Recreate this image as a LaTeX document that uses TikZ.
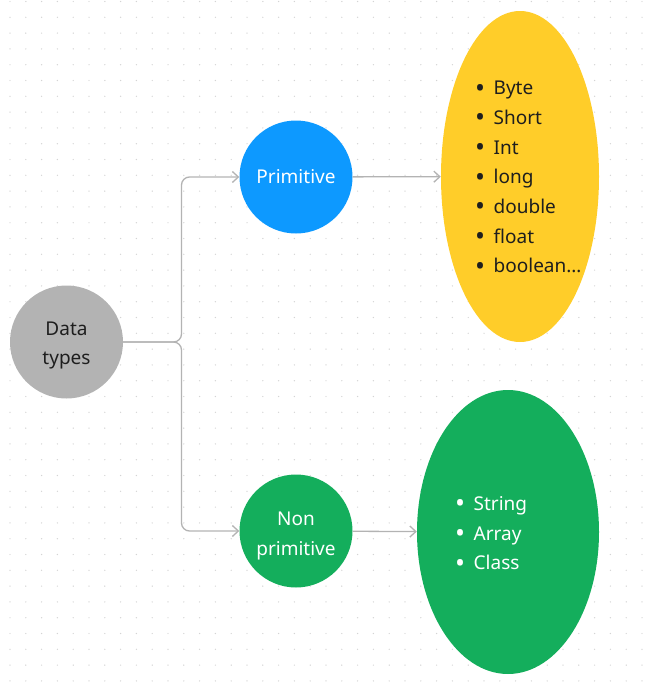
\documentclass[tikz,border=0pt]{standalone}
\usepackage{fontspec}
\setmainfont{Noto Sans}
\usetikzlibrary{shapes.geometric,arrows.meta}

\definecolor{dotgray}{HTML}{D4D4D4}
\definecolor{linkgray}{HTML}{B3B3B3}
\definecolor{typegray}{HTML}{B3B3B3}
\definecolor{primblue}{HTML}{0D99FF}
\definecolor{listyellow}{HTML}{FFCD29}
\definecolor{nongreen}{HTML}{14AE5C}
\definecolor{inkdark}{HTML}{1E1E1E}

\newcommand\itm[1]{\makebox[18.7pt][l]{\raisebox{-2.4pt}{\scalebox{1.4}{•}}}#1}
\newcommand\lift[1]{\rule{0pt}{#1}}

\begin{document}
\begin{tikzpicture}[x=1pt, y=-1pt,
  font=\fontsize{19}{29.7}\selectfont,
  bubble/.style={circle, minimum size=113pt, inner sep=0pt, align=center},
  blob/.style={ellipse, inner sep=0pt},
  itemlist/.style={align=left, anchor=west, inner sep=0pt},
  link/.style={draw=linkgray, line width=1.3pt},
  arr/.style={link, -{Straight Barb[length=6pt,width=11pt]}}]

\useasboundingbox (0,0) rectangle (650,688);

% dotted canvas
\foreach \i in {0,...,40}
  \foreach \j in {0,...,43}
    \fill [dotgray] (10+15.8*\i, 1.5+15.8*\j) circle (0.7pt);

\node [bubble, fill=typegray, text=inkdark] (dt) at (66.5,342) {\lift{20.5pt}Data\\types};
\node [bubble, fill=primblue, text=white] (prim) at (296,177) {Primitive};
\node [bubble, fill=nongreen, text=white] (nonprim) at (296,531) {\lift{23.5pt}Non\\primitive};

\node [blob, fill=listyellow, minimum width=158pt, minimum height=331pt] (pbox) at (520,176.5) {};
\node [blob, fill=nongreen, minimum width=182pt, minimum height=284pt] (nbox) at (508,532) {};

\node [itemlist, text=inkdark] (plist) at (474.8,178.2)
  {\itm{Byte}\\\itm{Short}\\\itm{Int}\\\itm{long}\\\itm{double}\\\itm{float}\\\itm{boolean…}};
\node [itemlist, text=white] (nlist) at (454.8,534.2)
  {\itm{String}\\\itm{Array}\\\itm{Class}};

\coordinate (split) at (181.5,342);

\draw [arr, rounded corners=8pt] (dt.east) -- (split) |- (prim.west);
\draw [arr, rounded corners=8pt] (dt.east) -- (split) |- (nonprim.west);
\draw [arr] (prim) -- (pbox);
\draw [arr] (nonprim) -- (nbox);

\end{tikzpicture}
\end{document}
